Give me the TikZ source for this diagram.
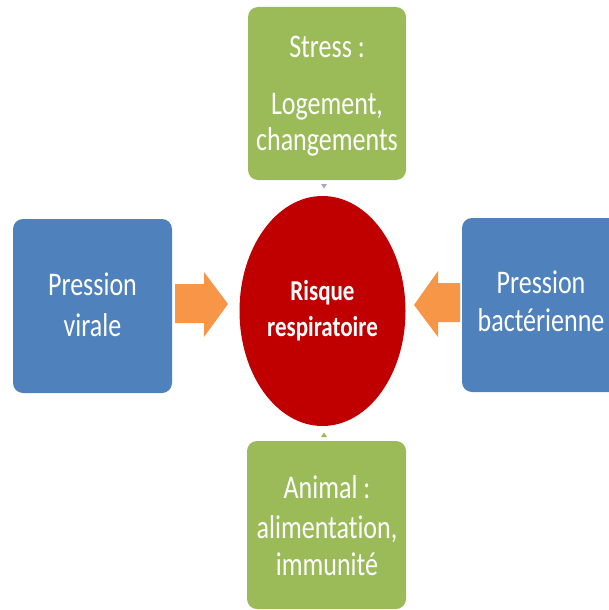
\documentclass[tikz,border=0pt]{standalone}
\usepackage{fontspec}
\setmainfont{Carlito}[RawFeature=-liga]
\usepackage{graphicx}
\usetikzlibrary{shapes.geometric}
\definecolor{boxblue}{HTML}{4F81BD}
\definecolor{boxgreen}{HTML}{9BBB59}
\definecolor{arroworange}{HTML}{F79646}
\definecolor{riskred}{HTML}{C00000}
\definecolor{tiplav}{HTML}{B3A2C7}
\newcommand{\stretchtext}[2]{\scalebox{1}[#1]{\begin{tabular}[t]{@{}c@{}}#2\end{tabular}}}
\begin{document}
\begin{tikzpicture}[x=1pt,y=-1pt,
  greenbox/.style={fill=boxgreen, rounded corners=10pt, inner sep=0pt},
  bluebox/.style={fill=boxblue, rounded corners=10pt, inner sep=0pt},
  boxtext/.style={text=white, inner sep=0pt, anchor=base, font=\fontsize{26}{26}\selectfont},
  risktext/.style={text=white, inner sep=0pt, anchor=base, font=\bfseries\fontsize{23}{23}\selectfont},
  blockarrow/.style={fill=arroworange},
]
\useasboundingbox (0,0) rectangle (609,610);
\clip (0,0) rectangle (609,610);
% boxes
\node[greenbox, minimum width=158pt, minimum height=173pt] (stress) at (327,93.5) {};
\node[greenbox, minimum width=159pt, minimum height=168pt] (animal) at (326.5,525) {};
\node[bluebox, minimum width=159pt, minimum height=174pt] (viral) at (92.5,306) {};
\node[bluebox, minimum width=158pt, minimum height=174pt] (bact) at (541,305) {};
% circle
\node[ellipse, fill=riskred, minimum width=166pt, minimum height=230pt, inner sep=0pt] (risk) at (322.5,311) {};
% texts
\node[boxtext] (stresstxt) at (327,57.5) {\stretchtext{1.27}{Stress :\\[18.9pt] Logement,\\[2.2pt] changements}};
\node[boxtext] (animaltxt) at (327,498) {\stretchtext{1.27}{Animal :\\[5.5pt] alimentation,\\[3.9pt] immunité}};
\node[boxtext] (viraltxt) at (92.5,295) {\stretchtext{1.27}{Pression\\[6.3pt] virale}};
\node[boxtext] (bacttxt) at (541,293) {\stretchtext{1.27}{Pression\\[4.7pt] bactérienne}};
\node[risktext] (risktxt) at (322.5,300.5) {\stretchtext{1.25}{Risque\\[5.5pt] respiratoire}};
% block arrows
\fill[blockarrow] (175,284) -- (204,284) -- (204,272) -- (228,304) -- (204,337) -- (204,323) -- (175,323) -- cycle;
\fill[blockarrow] (460,283) -- (438,283) -- (438,271) -- (414,305) -- (438,337) -- (438,322) -- (460,322) -- cycle;
% small tips
\fill[tiplav] (321,184) -- (327,184) -- (324,188.5) -- cycle;
\fill[boxgreen] (321,437) -- (327,437) -- (324,432.5) -- cycle;
\end{tikzpicture}
\end{document}
